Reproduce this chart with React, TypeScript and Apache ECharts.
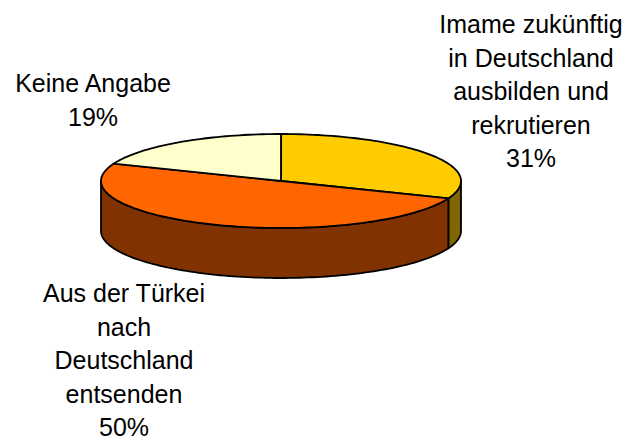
import React, { useEffect, useRef } from "react";
import * as echarts from "echarts";

// ---- data ----
const categories = [
  "Imame zukünftig\nin Deutschland\nausbilden und\nrekrutieren",
  "Aus der Türkei\nnach\nDeutschland\nentsenden",
  "Keine Angabe",
];
const values = [31, 50, 19];

// ---- styles / layout ----
const topColors = ["#FFCC00", "#FF6600", "#FFFFCC"];
const sideColors = ["#806600", "#803300", "#808066"];
const labelPos = [
  [531, 91],
  [124, 360],
  [93, 100],
];
const CX = 281;
const CY = 181;
const RX = 180;
const RY = 47;
const DEPTH = 50;
const START_ANGLE = 90;

const total = values.reduce((a, b) => a + b, 0);
const cumulative: number[] = [];
values.reduce((acc, v, i) => {
  cumulative[i] = acc;
  return acc + v;
}, 0);

function pt(deg: number, dy: number): number[] {
  const r = (deg * Math.PI) / 180;
  return [CX + RX * Math.cos(r), CY - RY * Math.sin(r) + dy];
}
function arc(from: number, to: number, dy: number): number[][] {
  const n = Math.max(2, Math.ceil(Math.abs(to - from) / 1.5));
  const pts: number[][] = [];
  for (let i = 0; i <= n; i++) pts.push(pt(from + ((to - from) * i) / n, dy));
  return pts;
}

export default function App() {
  const ref = useRef<HTMLDivElement>(null);
  useEffect(() => {
    if (!ref.current) return;
    const chart = echarts.init(ref.current, undefined, { renderer: "svg" });
    const stroke = { stroke: "#000", lineWidth: 1.8, lineJoin: "round" };
    chart.setOption({
      animation: false,
      backgroundColor: "#ffffff",
      series: [
        {
          type: "custom",
          coordinateSystem: "none",
          silent: true,
          data: values.map((v, i) => ({ value: v, name: categories[i] })),
          renderItem: (params: any, api: any) => {
            const i = params.dataIndex;
            const v = api.value(0);
            const start = START_ANGLE - (360 * cumulative[i]) / total;
            const end = start - (360 * v) / total;
            const children: any[] = [];
            for (let k = -2; k <= 1; k++) {
              const a = Math.max(end, -180 + 360 * k);
              const b = Math.min(start, 360 * k);
              if (b - a > 0.01) {
                children.push({
                  type: "polygon",
                  z2: 1,
                  shape: { points: [...arc(a, b, 0), ...arc(b, a, DEPTH)] },
                  style: { fill: sideColors[i], ...stroke },
                });
              }
            }
            children.push({
              type: "polygon",
              z2: 2,
              shape: { points: [[CX, CY], ...arc(start, end, 0)] },
              style: { fill: topColors[i], ...stroke },
            });
            return { type: "group", children };
          },
        },
      ],
      graphic: values.map((v, i) => ({
        type: "text",
        x: labelPos[i][0],
        y: labelPos[i][1],
        silent: true,
        style: {
          text: `${categories[i]}\n${v}%`,
          align: "center",
          verticalAlign: "middle",
          fontFamily: "'Liberation Sans', Arial, sans-serif",
          fontSize: 25,
          lineHeight: 33.5,
          fill: "#000",
        },
      })),
    });
    return () => chart.dispose();
  }, []);
  return (
    <div
      ref={ref}
      style={{ position: "fixed", left: 0, top: 0, width: 630, height: 442 }}
    />
  );
}
